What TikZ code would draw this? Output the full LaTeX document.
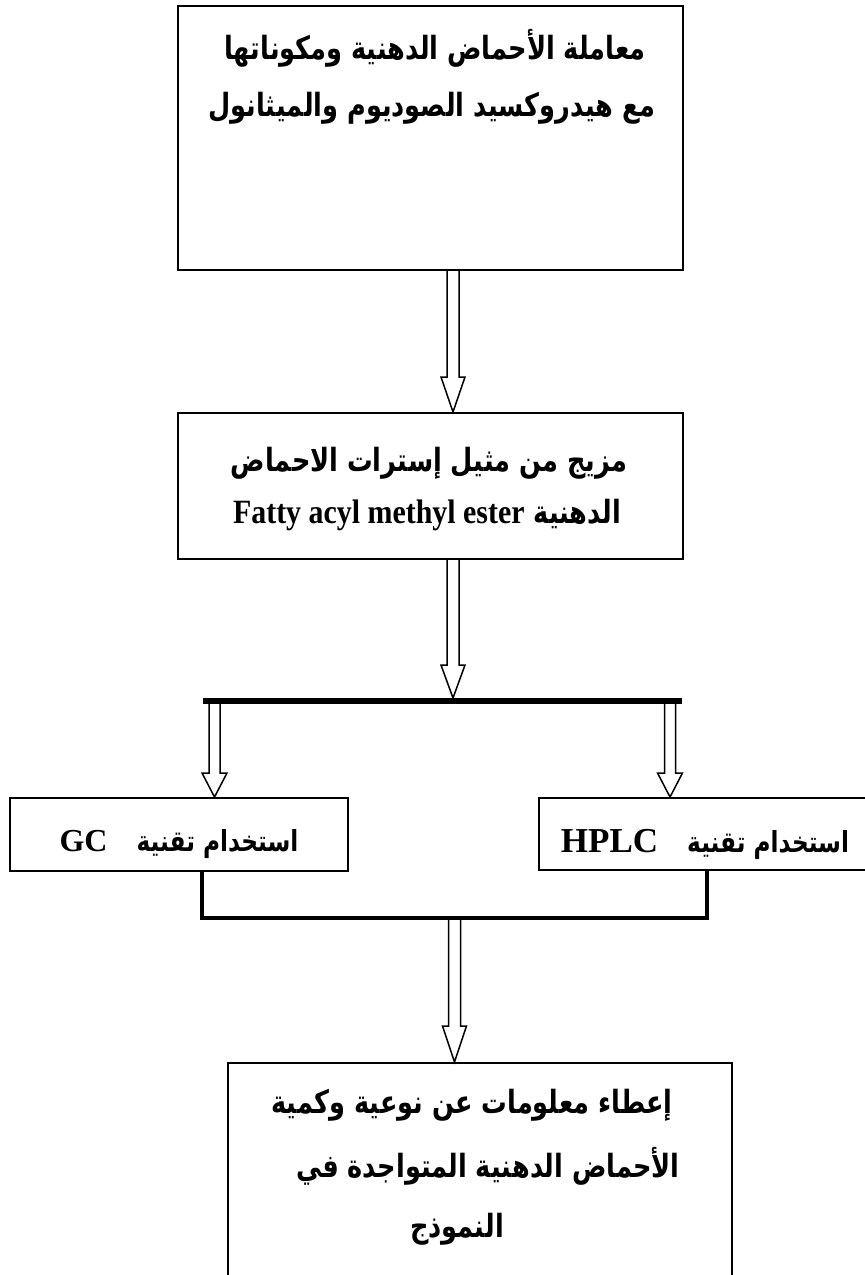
\documentclass[tikz,border=0pt]{standalone}
\usepackage{fontspec}
\usetikzlibrary{calc}
\TeXXeTstate=1
\newfontfamily\arabicfont[Script=Arabic,FakeStretch=0.80]{DejaVu Sans}
\newfontfamily\latinfont{Liberation Serif}
\newfontfamily\latinnarrow[FakeStretch=0.88]{Liberation Serif}
\newcommand{\arsize}[1]{\arabicfont\bfseries\fontsize{#1}{#1}\selectfont}
\newcommand{\lasize}[1]{\latinfont\bfseries\fontsize{#1}{#1}\selectfont}
% block arrow: start, tip, half shaft, half head, head length
\newcommand{\blockarrow}[5]{%
  \draw[arrowline] ($(#1)+(-#3,0)$) -- ($(#2)+(-#3,-#5)$) -- ($(#2)+(-#4,-#5)$) -- (#2)
     -- ($(#2)+(#4,-#5)$) -- ($(#2)+(#3,-#5)$) -- ($(#1)+(#3,0)$);}
\tikzset{
  box/.style={draw=black, line width=1.6pt, rectangle, inner sep=0pt, anchor=north west},
  txt/.style={anchor=base, inner sep=0pt},
  arrowline/.style={draw=black, line width=1.5pt, line join=miter},
  thickbar/.style={draw=black, line width=6pt},
  joinline/.style={draw=black, line width=4.5pt, line join=miter},
}
\begin{document}
\begin{tikzpicture}[x=1pt,y=-1pt]
\useasboundingbox (0,0) rectangle (865,1275);
\fill[white] (0,0) rectangle (865,1275);

% boxes
\node[box, minimum width=505pt, minimum height=264pt] (b1) at (177,5) {};
\node[box, minimum width=505pt, minimum height=146pt] (b2) at (177,412) {};
\node[box, minimum width=338pt, minimum height=73pt] (gc) at (9,797) {};
\node[box, minimum width=334pt, minimum height=72pt] (hplc) at (538,797) {};
\node[box, minimum width=504pt, minimum height=260pt] (b3) at (227,1062) {};

% texts
\node[txt] (t1a) at (435,59) {{\arsize{32}\beginR معاملة الأحماض الدهنية ومكوناتها\endR}};
\node[txt] (t1b) at (432,116) {{\arsize{32}\beginR مع هيدروكسيد الصوديوم والميثانول\endR}};
\node[txt] (t2a) at (429,471) {{\arsize{32}\beginR مزيج من مثيل إسترات الاحماض\endR}};
\node[txt] (t2b) at (427,523) {{\arsize{32}\beginR الدهنية \beginL{\latinnarrow\bfseries\fontsize{34}{34}\selectfont Fatty acyl methyl ester}\endL\endR}};
\node[txt] (tgc) at (179,851) {{\arsize{29}\beginR استخدام تقنية\quad\beginL{\lasize{32}GC}\endL\endR}};
\node[txt] (thplc) at (705,852) {{\arsize{29}\beginR استخدام تقنية\quad\beginL{\lasize{35}HPLC}\endL\endR}};
\node[txt] (t3a) at (472,1113) {{\arsize{32}\beginR إعطاء معلومات عن نوعية وكمية\endR}};
\node[txt] (t3b) at (488,1177) {{\arsize{32}\beginR الأحماض الدهنية المتواجدة في\endR}};
\node[txt] (t3c) at (457,1237) {{\arsize{32}\beginR النموذج\endR}};

% x positions of connectors
\coordinate (xa) at (453,0);
\coordinate (xl) at (214.5,0);
\coordinate (xr) at (670,0);
\coordinate (x3) at (454.5,0);
\coordinate (xgc) at (202,0);
\coordinate (xhp) at (707,0);

% distribution bar
\coordinate (barL) at (203,701);
\coordinate (barR) at (682,701);
\draw[thickbar] (barL) -- (barR);
\coordinate (bartop) at (453,698);
\coordinate (barbotL) at (214.5,704);
\coordinate (barbotR) at (670,704);

% joining line
\coordinate (joinL) at (202,918);
\coordinate (joinR) at (707,918);
\draw[joinline] (gc.south -| xgc) -- (joinL) -- (joinR) -- (hplc.south -| xhp);
\coordinate (joinmid) at (454.5,920);

% arrows
\coordinate (a1s) at (b1.south -| xa);
\coordinate (a1e) at (b2.north -| xa);
\blockarrow{a1s}{a1e}{6}{12}{35}
\coordinate (a2s) at (b2.south -| xa);
\blockarrow{a2s}{bartop}{6}{12}{33}
\coordinate (aLe) at (gc.north -| xl);
\blockarrow{barbotL}{aLe}{5.5}{12.5}{24}
\coordinate (aRe) at (hplc.north -| xr);
\blockarrow{barbotR}{aRe}{5.5}{12.5}{24}
\coordinate (a3e) at (b3.north -| x3);
\blockarrow{joinmid}{a3e}{6}{12}{36}
\end{tikzpicture}
\end{document}
